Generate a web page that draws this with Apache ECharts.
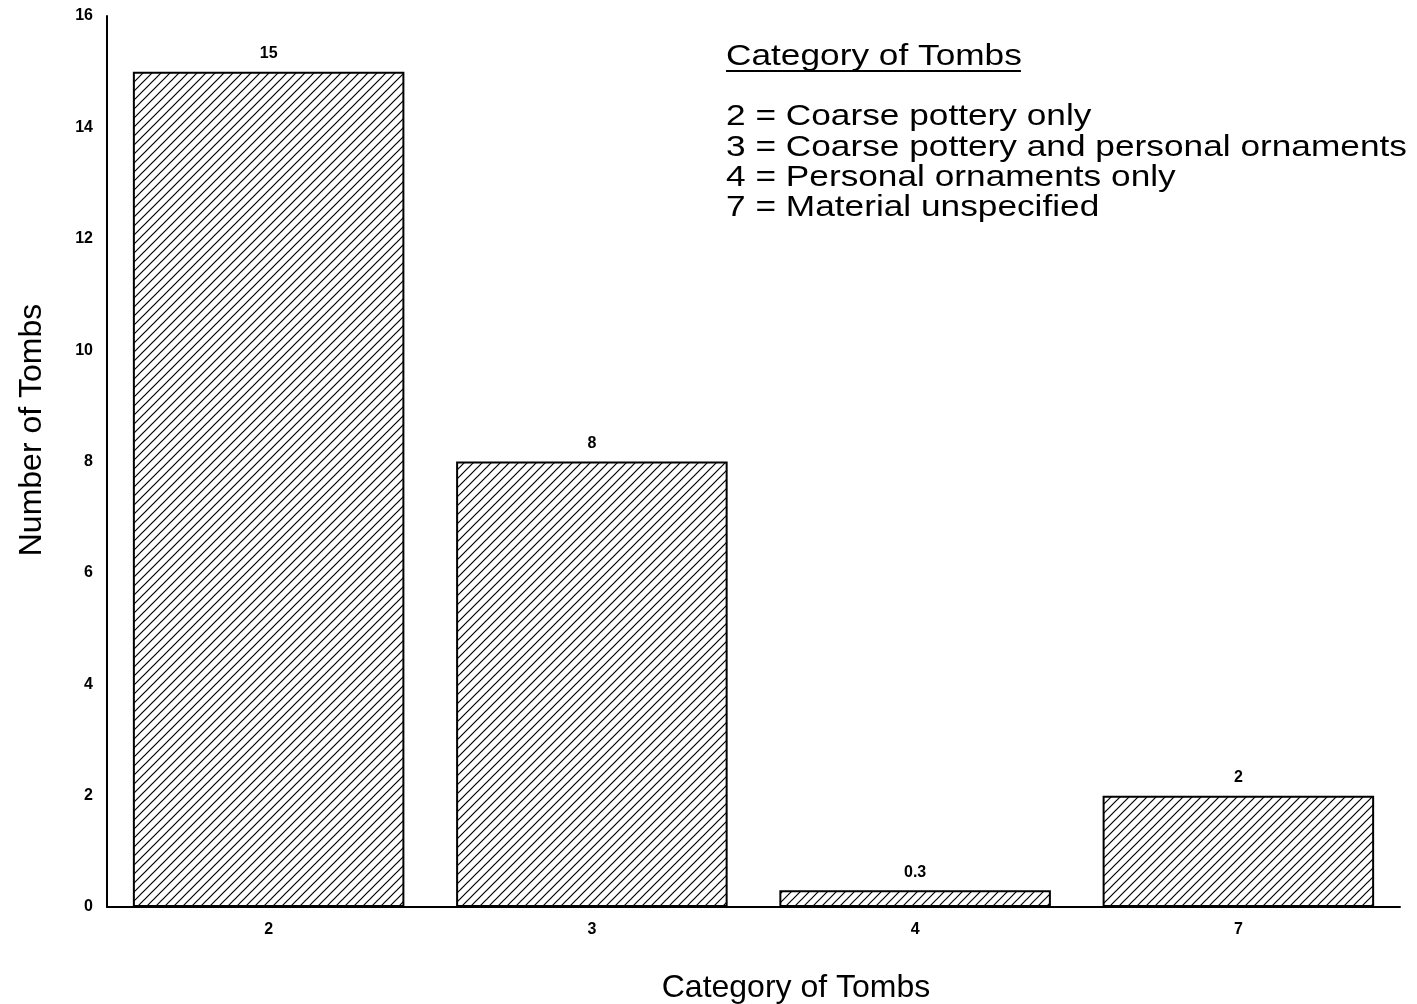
<!DOCTYPE html>
<html>
<head>
<meta charset="utf-8">
<script src="https://cdn.jsdelivr.net/npm/echarts@6/dist/echarts.min.js"></script>
<style>html,body{margin:0;padding:0;background:#fff;}#c{width:1417px;height:1004px;}</style>
</head>
<body>
<div id="c"></div>
<script>
const categories = ['2', '3', '4', '7'];
const tombCounts = [15, 8, 0.3, 2];
const yTicks = [0, 2, 4, 6, 8, 10, 12, 14, 16];
const legendTitle = 'Category of Tombs';
const legendLines = [
  '2 = Coarse pottery only',
  '3 = Coarse pottery and personal ornaments',
  '4 = Personal ornaments only',
  '7 = Material unspecified'
];
const xAxisTitle = 'Category of Tombs';
const yAxisTitle = 'Number of Tombs';

// hatch pattern "/"
const P = 9;
const cv = document.createElement('canvas');
cv.width = P; cv.height = P;
const g = cv.getContext('2d');
g.fillStyle = '#fff'; g.fillRect(0, 0, P, P);
g.strokeStyle = '#000'; g.lineWidth = 1.2;
g.beginPath();
g.moveTo(-1, P + 1); g.lineTo(P + 1, -1);
g.moveTo(-2, 2); g.lineTo(2, -2);
g.moveTo(P - 2, P + 2); g.lineTo(P + 2, P - 2);
g.stroke();

const chart = echarts.init(document.getElementById('c'), null, {renderer: 'canvas'});
const font = 'Liberation Sans, Arial, Helvetica, sans-serif';

const legendChildren = [{
  type: 'text', x: 0, y: 57,
  style: {text: legendTitle, font: '30px ' + font, fill: '#000', textVerticalAlign: 'middle', textAlign: 'left'}
}, {
  type: 'line', shape: {x1: 0, y1: 71, x2: 251, y2: 71}, style: {stroke: '#000', lineWidth: 2}
}];
legendLines.forEach((t, i) => {
  legendChildren.push({
    type: 'text', x: 0, y: 117 + i * 30.4,
    style: {text: t, font: '30px ' + font, fill: '#000', textVerticalAlign: 'middle', textAlign: 'left'}
  });
});

chart.setOption({
  backgroundColor: '#fff',
  animation: false,
  grid: {left: 107, right: 17, top: 16, bottom: 97, containLabel: false},
  xAxis: {
    type: 'category',
    data: categories,
    axisLine: {lineStyle: {color: '#000', width: 2}},
    axisTick: {show: false},
    axisLabel: {color: '#000', fontFamily: font, fontWeight: 'bold', fontSize: 16, margin: 15}
  },
  yAxis: {
    type: 'value',
    min: yTicks[0], max: yTicks[yTicks.length - 1], interval: 2,
    axisLine: {show: true, lineStyle: {color: '#000', width: 2}},
    axisTick: {show: false},
    splitLine: {show: false},
    axisLabel: {color: '#000', fontFamily: font, fontWeight: 'bold', fontSize: 16, margin: 14}
  },
  series: [{
    type: 'bar',
    data: tombCounts,
    barCategoryGap: '16%',
    itemStyle: {color: {image: cv, repeat: 'repeat'}, borderColor: '#000', borderWidth: 2},
    label: {show: true, position: 'top', distance: 10, color: '#000', fontFamily: font, fontWeight: 'bold', fontSize: 16}
  }],
  graphic: [
    {type: 'group', x: 726, y: 0, scaleX: 1.175, children: legendChildren},
    {type: 'text', x: 796, y: 988, style: {text: xAxisTitle, font: '32px ' + font, fill: '#000', textAlign: 'center', textVerticalAlign: 'middle'}},
    {type: 'text', x: 32, y: 430, rotation: Math.PI / 2, style: {text: yAxisTitle, font: '32px ' + font, fill: '#000', textAlign: 'center', textVerticalAlign: 'middle'}}
  ]
});
</script>
</body>
</html>
